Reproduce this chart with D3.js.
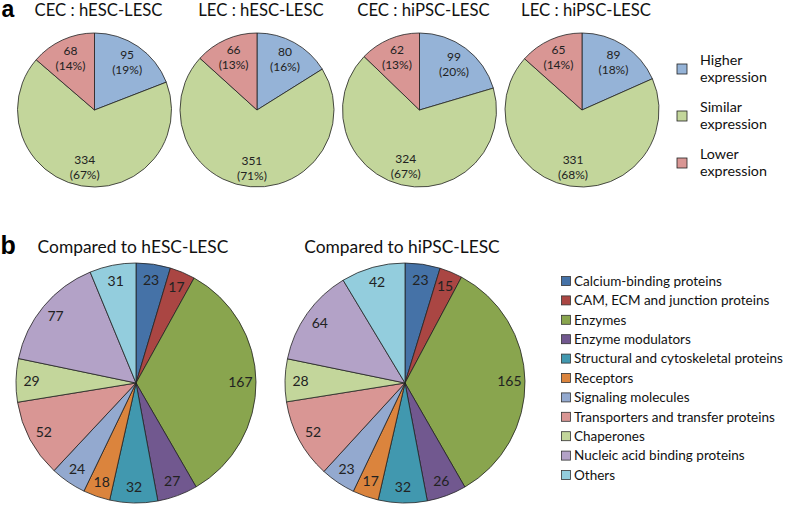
<!DOCTYPE html>
<html><head><meta charset="utf-8">
<script src="https://cdn.jsdelivr.net/npm/d3@7"></script>
<style>body{margin:0;background:#fff}svg{display:block}</style>
</head><body><svg id="c" width="787" height="508"></svg>
<script>
// ---- data ----
const topTitles = ["CEC : hESC-LESC", "LEC : hESC-LESC", "CEC : hiPSC-LESC", "LEC : hiPSC-LESC"];
const topCategories = ["Higher expression", "Similar expression", "Lower expression"];
const topLegendLines = [["Higher", "expression"], ["Similar", "expression"], ["Lower", "expression"]];
const topColors = ["#95B3D7", "#C3D69B", "#D99694"];
const topValues = [[95, 334, 68], [80, 351, 66], [99, 324, 62], [89, 331, 65]];
const topPercents = [[19, 67, 14], [16, 71, 13], [20, 67, 13], [18, 68, 14]];

const botTitles = ["Compared to hESC-LESC", "Compared to hiPSC-LESC"];
const botCategories = ["Calcium-binding proteins", "CAM, ECM and junction proteins", "Enzymes", "Enzyme modulators",
  "Structural and cytoskeletal proteins", "Receptors", "Signaling molecules", "Transporters and transfer proteins",
  "Chaperones", "Nucleic acid binding proteins", "Others"];
const botColors = ["#4572A7", "#AA4643", "#89A54E", "#71588F", "#4198AF", "#DB843D", "#93A9CF", "#D99694",
  "#C3D69B", "#B3A2C7", "#93CDDD"];
const botValues = [[23, 17, 167, 27, 32, 18, 24, 52, 29, 77, 31], [23, 15, 165, 26, 32, 17, 23, 52, 28, 64, 42]];

// ---- drawing ----
const svg = d3.select("#c");
const FONT = "Lato, 'Open Sans', sans-serif";
const pie = d3.pie().sort(null).value(d => d);

// find a font size so that a sample string has the wanted width
function fitSize(sample, width, base) {
  const t = svg.append("text").style("font-family", FONT).style("font-size", base + "px").text(sample);
  const w = t.node().getComputedTextLength();
  t.remove();
  return (base * width / w).toFixed(2) + "px";
}
const topTitleSize = fitSize("CEC : hESC-LESC", 128, 16);
const botTitleSize = fitSize("Compared to hESC-LESC", 191, 18);
const botLegSize = fitSize("Structural and cytoskeletal proteins", 209, 14);
const topLegSize = fitSize("expression", 67, 15);

svg.append("text").attr("x", 1.5).attr("y", 16.5).text("a")
  .style("font-family", "Arial, 'Liberation Sans', sans-serif").style("font-weight", "bold").style("font-size", "23px");
svg.append("text").attr("x", 0.5).attr("y", 254).text("b")
  .style("font-family", "Arial, 'Liberation Sans', sans-serif").style("font-weight", "bold").style("font-size", "25px");

// top pies
const topX = d3.scalePoint().domain(d3.range(4)).range([94.5, 582]);
const topR = 77, topCy = 110;
const topColor = d3.scaleOrdinal().domain(topCategories).range(topColors);
const arcTop = d3.arc().innerRadius(0).outerRadius(topR);
const lblTop = d3.arc().innerRadius(topR * 0.75).outerRadius(topR * 0.75);

topValues.forEach((vals, i) => {
  const cx = topX(i);
  svg.append("text").attr("x", cx + 4).attr("y", 16).attr("text-anchor", "middle")
    .style("font-family", FONT).style("font-size", topTitleSize).style("fill", "#111").text(topTitles[i]);
  const g = svg.append("g").attr("transform", `translate(${cx},${topCy})`);
  const arcs = pie(vals);
  g.selectAll("path").data(arcs).join("path").attr("d", arcTop)
    .attr("fill", (d, j) => topColor(topCategories[j])).attr("stroke", "#222").attr("stroke-width", 0.8);
  arcs.forEach((a, j) => {
    const [x, y] = lblTop.centroid(a);
    const t = g.append("text").attr("text-anchor", "middle")
      .style("font-family", FONT).style("font-size", "12px").style("fill", "#222");
    t.append("tspan").attr("x", x).attr("y", y - 3).text(vals[j]);
    t.append("tspan").attr("x", x).attr("y", y + 12).text(`(${topPercents[i][j]}%)`);
  });
});

// top legend
const topLegY = d3.scalePoint().domain(topCategories).range([69, 163]);
topCategories.forEach((c, j) => {
  const y = topLegY(c);
  svg.append("rect").attr("x", 677).attr("y", y - 5).attr("width", 10).attr("height", 10)
    .attr("fill", topColor(c)).attr("stroke", "#222").attr("stroke-width", 0.8);
  const t = svg.append("text").style("font-family", FONT).style("font-size", topLegSize).style("fill", "#111");
  t.append("tspan").attr("x", 700).attr("y", y - 4).text(topLegendLines[j][0]);
  t.append("tspan").attr("x", 700).attr("y", y + 13).text(topLegendLines[j][1]);
});

// bottom pies
const botX = d3.scalePoint().domain(d3.range(2)).range([136, 405]);
const botR = 120, botCy = 383;
const botColor = d3.scaleOrdinal().domain(botCategories).range(botColors);
const arcBot = d3.arc().innerRadius(0).outerRadius(botR);
const lblBot = d3.arc().innerRadius(botR * 0.87).outerRadius(botR * 0.87);
botValues.forEach((vals, i) => {
  const cx = botX(i);
  svg.append("text").attr("x", cx - 3).attr("y", 253).attr("text-anchor", "middle")
    .style("font-family", FONT).style("font-size", botTitleSize).style("fill", "#111").text(botTitles[i]);
  const g = svg.append("g").attr("transform", `translate(${cx},${botCy})`);
  const arcs = pie(vals);
  g.selectAll("path").data(arcs).join("path").attr("d", arcBot)
    .attr("fill", (d, j) => botColor(botCategories[j])).attr("stroke", "#222").attr("stroke-width", 0.8);
  g.selectAll("text").data(arcs).join("text")
    .attr("transform", d => `translate(${lblBot.centroid(d)})`).attr("text-anchor", "middle").attr("dy", "0.35em")
    .style("font-family", FONT).style("font-size", "14px").style("fill", "#222").text(d => d.data);
});

// bottom legend
const botLegY = d3.scalePoint().domain(botCategories).range([281, 475]);
botCategories.forEach(c => {
  const y = botLegY(c);
  svg.append("rect").attr("x", 561.5).attr("y", y - 4.5).attr("width", 9).attr("height", 9)
    .attr("fill", botColor(c)).attr("stroke", "#333").attr("stroke-width", 0.8);
  svg.append("text").attr("x", 574).attr("y", y).attr("dy", "0.35em")
    .style("font-family", FONT).style("font-size", botLegSize).style("fill", "#111").text(c);
});
</script></body></html>
